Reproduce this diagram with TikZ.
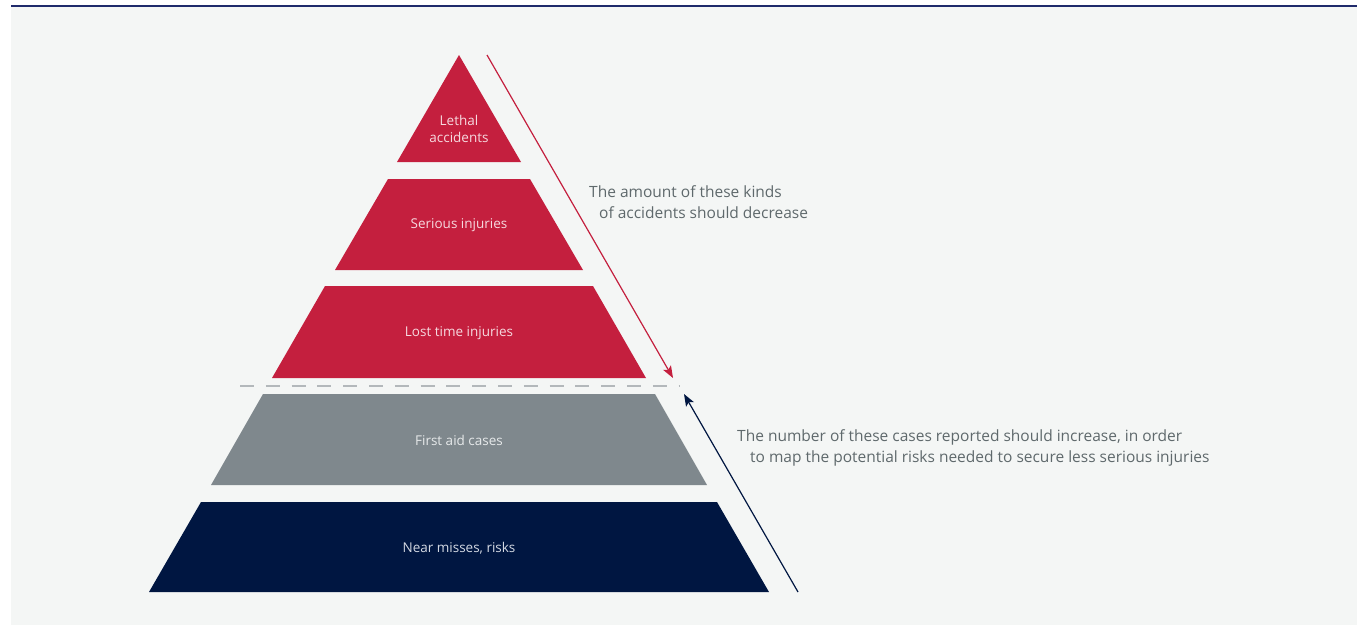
\documentclass[tikz,border=0pt]{standalone}
\usepackage{fontspec}
\setmainfont{Open Sans}
\usetikzlibrary{arrows.meta}
\definecolor{bgc}{HTML}{F4F6F5}
\definecolor{topc}{HTML}{1F2A6B}
\definecolor{redc}{HTML}{C41F3E}
\definecolor{grayc}{HTML}{7F888D}
\definecolor{navyc}{HTML}{001641}
\definecolor{txtc}{HTML}{5F696C}
\definecolor{dashc}{HTML}{B3B8BB}
\definecolor{lblred}{HTML}{F6D9DF}
\definecolor{lblgray}{HTML}{E6E9EA}
\definecolor{lblnavy}{HTML}{D3D8E2}
\tikzset{
  lbl/.style={font=\fontsize{13.5}{17}\selectfont, align=center, inner sep=0pt},
  note/.style={font=\fontsize{15.5}{21}\selectfont, text=txtc, align=left, anchor=north west, inner sep=0pt},
  arr/.style={line width=1.2pt, -{Stealth[length=12pt,width=9pt,inset=2.5pt]}}
}
\begin{document}
\begin{tikzpicture}[x=1pt,y=-1pt]
\useasboundingbox (0,0) rectangle (1357,625);
\fill[white] (0,0) rectangle (1357,625);
\fill[bgc] (11,7) rectangle (1357,625);
\draw[topc, line width=1.5pt] (11,6) -- (1357,6);
% pyramid layers
\fill[redc] (459,55) -- (521,162) -- (397,162) -- cycle;
\fill[redc] (388,179) -- (530,179) -- (583,270) -- (335,270) -- cycle;
\fill[redc] (325,286) -- (593,286) -- (646,378) -- (272,378) -- cycle;
\fill[grayc] (263,394) -- (655,394) -- (707,485) -- (211,485) -- cycle;
\fill[navyc] (201,502) -- (717,502) -- (769,592) -- (149,592) -- cycle;
% labels
\node[lbl, text=lblred] (l1) at (459,129) {Lethal\\accidents};
\node[lbl, text=lblred] (l2) at (459,225) {Serious injuries};
\node[lbl, text=lblred] (l3) at (459,333) {Lost time injuries};
\node[lbl, text=lblgray] (l4) at (459,440) {First aid cases};
\node[lbl, text=lblnavy] (l5) at (459,548) {Near misses, risks};
% dashed separator
\coordinate (d1) at (240,386);
\coordinate (d2) at (680,386);
\draw[dashc, line width=1.3pt, dash pattern=on 14pt off 11.8pt] (d1) -- (d2);
% arrows
\coordinate (r1) at (487,55);
\coordinate (r2) at (673,378);
\draw[arr, redc] (r1) -- (r2);
\coordinate (b1) at (798,592);
\coordinate (b2) at (684,394);
\draw[arr, navyc] (b1) -- (b2);
% notes
\node[note] (n1) at (589,185) {The amount of these kinds\\\hspace{10pt}of accidents should decrease};
\node[note] (n2) at (737,429) {The number of these cases reported should increase, in order\\\hspace{13pt}to map the potential risks needed to secure less serious injuries};
\end{tikzpicture}
\end{document}
